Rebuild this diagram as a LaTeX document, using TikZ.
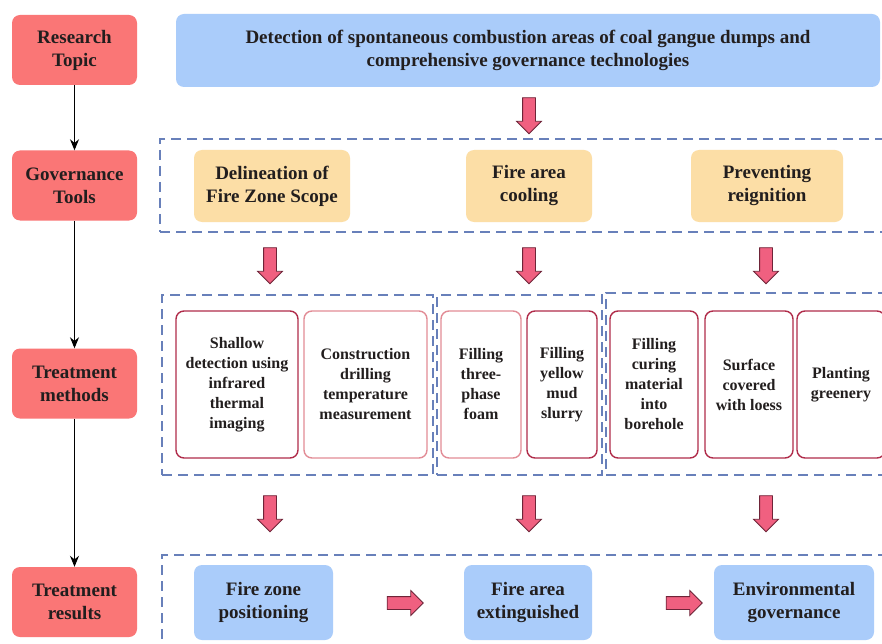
\documentclass[tikz,border=0pt]{standalone}
\usepackage{fontspec}
\setmainfont{Liberation Serif}
\usetikzlibrary{arrows.meta,shapes.arrows}
\definecolor{headred}{RGB}{250,118,118}
\definecolor{topblue}{RGB}{170,204,250}
\definecolor{toolorange}{RGB}{252,222,166}
\definecolor{dashblue}{RGB}{104,128,186}
\definecolor{methdark}{RGB}{176,44,74}
\definecolor{methlight}{RGB}{226,140,150}
\definecolor{arrowpink}{RGB}{240,96,128}
\definecolor{arrowedge}{RGB}{110,36,56}
\definecolor{txt}{RGB}{34,30,30}
\tikzset{
  head/.style={fill=headred, rounded corners=8pt, minimum width=125pt, minimum height=70pt, align=center, text=txt, font=\bfseries\fontsize{19}{23}\selectfont},
  tool/.style={fill=toolorange, rounded corners=8pt, minimum height=72pt, align=center, text=txt, font=\bfseries\fontsize{19}{23}\selectfont},
  method/.style={draw=methdark, line width=1.4pt, rounded corners=8pt, minimum height=147pt, align=center, text=txt, font=\bfseries\fontsize{16}{20}\selectfont},
  result/.style={fill=topblue, rounded corners=8pt, minimum height=75pt, align=center, text=txt, font=\bfseries\fontsize{19}{23}\selectfont},
  group/.style={draw=dashblue, line width=1.5pt, dash pattern=on 10pt off 6pt, inner sep=0pt},
  fatarrow/.style={single arrow, fill=arrowpink, draw=arrowedge, line width=0.8pt, inner sep=6pt, minimum height=36pt, single arrow head extend=6pt, single arrow head indent=0pt}
}
\begin{document}
\begin{tikzpicture}[x=1pt,y=-1pt]
\useasboundingbox (0,0) rectangle (882,644);
\fill[white] (0,0) rectangle (882,644);
\clip (0,0) rectangle (882,644);
\node[head] (1) at (74.5,50) {Research\\Topic};
\node[head] (2) at (74.5,185.5) {Governance\\Tools};
\node[head] (3) at (74.5,383.5) {Treatment\\methods};
\node[head] (4) at (74.5,602) {Treatment\\results};
\path[draw,line width=1pt,-{Stealth[length=11pt,width=9pt]}] (1) -- (2);
\path[draw,line width=1pt,-{Stealth[length=11pt,width=9pt]}] (2) -- (3);
\path[draw,line width=1pt,-{Stealth[length=11pt,width=9pt]}] (3) -- (4);
\node[fill=topblue, rounded corners=8pt, minimum width=704pt, minimum height=73pt, align=center, text=txt, font=\bfseries\fontsize{19}{23}\selectfont] (t) at (528,50.5) {Detection of spontaneous combustion areas of coal gangue dumps and\\comprehensive governance technologies};
\node[group, minimum width=740pt, minimum height=93pt] (g) at (530,185.5) {};
\node[tool, minimum width=156pt] (g1) at (272,186) {Delineation of\\Fire Zone Scope};
\node[tool, minimum width=126pt] (g2) at (529,186) {Fire area\\cooling};
\node[tool, minimum width=152pt] (g3) at (767,186) {Preventing\\reignition};
\node[group, minimum width=271pt, minimum height=180pt] (m) at (297.5,385) {};
\node[group, minimum width=165pt, minimum height=180pt] (n) at (519.5,385) {};
\node[group, minimum width=290pt, minimum height=182pt] (p) at (751,384) {};
\node[method, minimum width=122pt] (m1) at (237,384.5) {Shallow\\detection using\\infrared\\thermal\\imaging};
\node[method, draw=methlight, minimum width=123pt] (m2) at (365.5,384.5) {Construction\\drilling\\temperature\\measurement};
\node[method, draw=methlight, minimum width=80pt] (m3) at (481,384.5) {Filling\\three-\\phase\\foam};
\node[method, minimum width=70pt] (m4) at (562,384.5) {Filling\\yellow\\mud\\slurry};
\node[method, minimum width=88pt] (m5) at (654,384.5) {Filling\\curing\\material\\into\\borehole};
\node[method, minimum width=88pt] (m6) at (749,384.5) {Surface\\covered\\with loess};
\node[method, minimum width=88pt] (m7) at (841,384.5) {Planting\\greenery};
\node[group, minimum width=740pt, minimum height=110pt] (r) at (532,610) {};
\node[result, minimum width=139pt] (r1) at (263.5,602.5) {Fire zone\\positioning};
\node[result, minimum width=128pt] (r2) at (528,602.5) {Fire area\\extinguished};
\node[result, minimum width=160pt] (r3) at (794,602.5) {Environmental\\governance};
\node[fatarrow, rotate=-90] (a1) at (529,112.5) {};
\node[fatarrow, rotate=-90] (a2) at (270,262.5) {};
\node[fatarrow, rotate=-90] (a3) at (529,262.5) {};
\node[fatarrow, rotate=-90] (a4) at (766,262.5) {};
\node[fatarrow, rotate=-90] (a5) at (270,510.5) {};
\node[fatarrow, rotate=-90] (a6) at (529,510.5) {};
\node[fatarrow, rotate=-90] (a7) at (766,510.5) {};
\node[fatarrow] (h1) at (402,603) {};
\node[fatarrow] (h2) at (681,603) {};
\end{tikzpicture}
\end{document}
